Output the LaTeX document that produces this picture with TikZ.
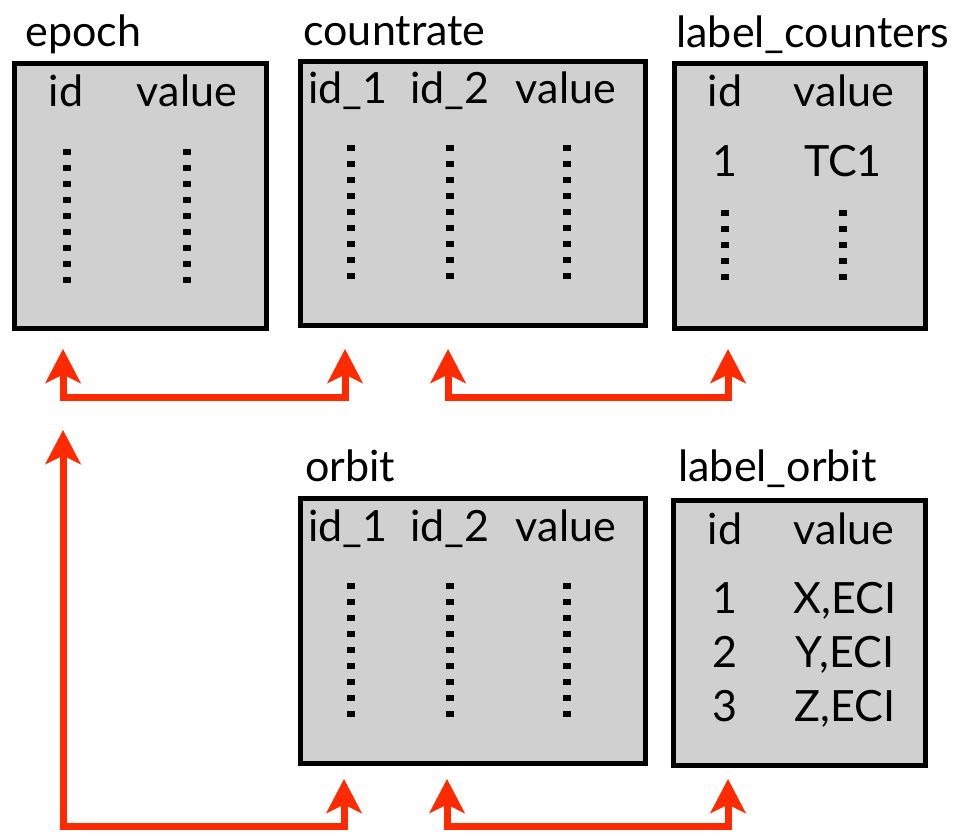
\documentclass[tikz,border=0pt]{standalone}
\usepackage{fontspec}
\setmainfont{Lato}
\usepackage{xcolor}
\usetikzlibrary{positioning,arrows.meta,calc}
\definecolor{tblgray}{HTML}{D0D0D0}
\definecolor{linkred}{HTML}{FF2A00}

\begin{document}
\begin{tikzpicture}[x=0.02cm,y=-0.02cm,
  tbl/.style={rectangle,draw=black,fill=tblgray,line width=0.1cm,outer sep=0pt,inner sep=0pt,minimum height=5.32cm},
  ttl/.style={anchor=base west,inner sep=0pt,font=\fontsize{24.5}{29}\selectfont},
  txt/.style={anchor=base,inner sep=0pt,font=\fontsize{24.5}{29}\selectfont},
  dotcol/.style={line width=0.16cm,dash pattern=on 0.12cm off 0.2cm},
  link/.style={<->,>={Stealth[length=6.8mm,width=7mm,inset=1.7mm]},line width=0.14cm,linkred,line join=miter}]
\useasboundingbox (0,0) rectangle (968,834);
% ---- tables ----
\node[tbl,minimum width=5.06cm] (epoch) at (140.5,196) {};
\node[tbl,minimum width=6.92cm,minimum height=5.3cm] (crate) at (473,193.5) {};
\node[tbl,minimum width=5.04cm] (lcnt) at (800,196) {};
\node[tbl,minimum width=6.92cm] (orbit) at (473,631) {};
\node[tbl,minimum width=5.06cm] (lorb) at (799.5,633) {};
% ---- table names ----
\node[ttl] (epoch-t) at (25,47) {epoch};
\node[ttl] (crate-t) at (303,46) {countrate};
\node[ttl] (lcnt-t) at (676,48) {label\_counters};
\node[ttl] (orbit-t) at (305,482) {orbit};
\node[ttl] (lorb-t) at (678,482) {label\_orbit};
% ---- column heads ----
\foreach \x/\lab [count=\i] in {66/id,187/value}{
  \node[txt] (epoch-h\i) at (\x,107) {\lab};}
\foreach \x/\lab [count=\i] in {348/id\_1,450/id\_2,566/value}{
  \node[txt] (crate-h\i) at (\x,104) {\lab};
  \node[txt] (orbit-h\i) at (\x,542) {\lab};}
\foreach \x/\lab [count=\i] in {725/id,844/value}{
  \node[txt] (lcnt-h\i) at (\x,107) {\lab};
  \node[txt] (lorb-h\i) at (\x,545) {\lab};}
% ---- rows ----
\node[txt] (lcnt-r1) at (725,177) {1};
\node[txt] (lcnt-v1) at (843,177) {TC1};
\foreach \y/\n/\v in {614/1/{X,ECI},668/2/{Y,ECI},722/3/{Z,ECI}}{
  \node[txt] (lorb-r\n) at (725,\y) {\n};
  \node[txt] (lorb-v\n) at (845,\y) {\v};}
% ---- dotted columns ----
\foreach \x in {67,187} \draw[dotcol] (\x,149) -- (\x,285);
\foreach \x in {351,450,567}{
  \draw[dotcol] (\x,145) -- (\x,281);
  \draw[dotcol] (\x,583) -- (\x,719);}
\foreach \x in {725,843} \draw[dotcol] (\x,210) -- (\x,282);
% ---- links ----
\coordinate (ep-up) at ($(epoch.south west)+(49,20)$);
\coordinate (ep-low) at ($(ep-up)+(0,81)$);
\coordinate (cr-up) at ($(crate.south west)+(45,23)$);
\coordinate (cr-up2) at ($(crate.south west)+(148,23)$);
\coordinate (lc-up) at ($(lcnt.south west)+(54,20)$);
\coordinate (or-up) at ($(orbit.south west)+(44,15)$);
\coordinate (or-up2) at ($(orbit.south west)+(147,15)$);
\coordinate (lo-up) at ($(lorb.south west)+(55,13)$);
\draw[link] (ep-up) -- ++(0,49) -| (cr-up);
\draw[link] (cr-up2) -- ++(0,49) -| (lc-up);
\draw[link] (ep-low) -- ++(0,397) -| (or-up);
\draw[link] (or-up2) -- ++(0,48) -| (lo-up);
\end{tikzpicture}
\end{document}
